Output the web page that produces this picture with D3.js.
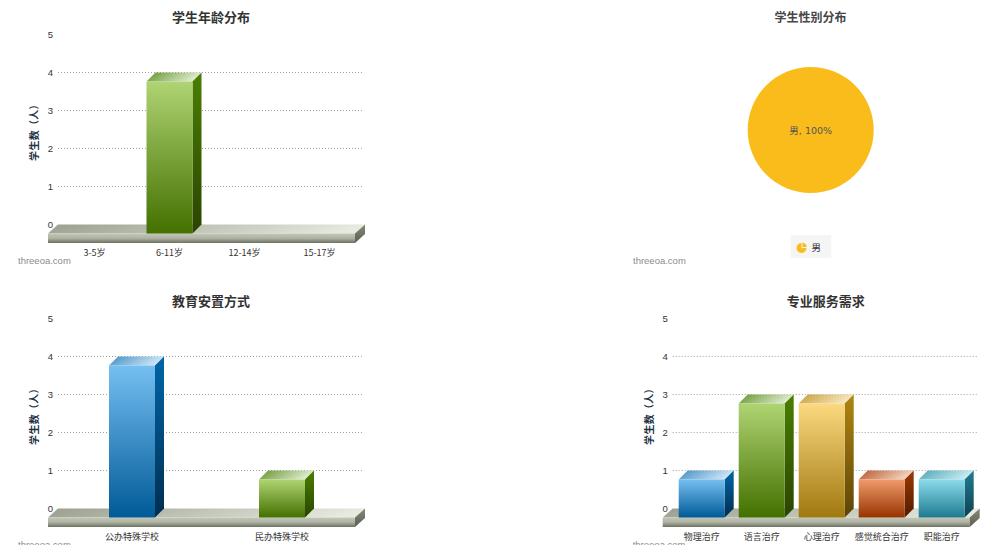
<!DOCTYPE html>
<html><head><meta charset="utf-8">
<script src="https://cdn.jsdelivr.net/npm/d3@7/dist/d3.min.js"></script>
<style>html,body{margin:0;padding:0;background:#fff;overflow:hidden}svg{display:block}
text{font-family:"Noto Sans CJK SC","Liberation Sans",sans-serif}</style></head><body>
<script>
const ageTitle = "学生年龄分布", ageCats = ["3-5岁","6-11岁","12-14岁","15-17岁"], ageVals = [0,4,0,0], ageColors = ["green","green","green","green"];
const placeTitle = "教育安置方式", placeCats = ["公办特殊学校","民办特殊学校"], placeVals = [4,1], placeColors = ["blue","green"];
const svcTitle = "专业服务需求", svcCats = ["物理治疗","语言治疗","心理治疗","感觉统合治疗","职能治疗"], svcVals = [1,3,3,1,1], svcColors = ["blue","green","gold","orange","teal"];
const genderTitle = "学生性别分布", genderCats = ["男"], genderVals = [100], genderColor = "#f9bc1a";
const yTicks = [0,1,2,3,4,5], gridTicks = [1,2,3,4];
const yTitle = "学生数（人）", watermark = "threeoa.com";
const palette = {
  green:{f:["#afd473","#437000"],s:["#4a7f00","#2a4400"],t:["#64942a","#e0ecd0"]},
  blue:{f:["#75bff2","#005a96"],s:["#0066a8","#002e50"],t:["#3f8ec4","#cfe6f6"]},
  gold:{f:["#fcd981","#a0780e"],s:["#b08610","#5c4408"],t:["#c89c38","#f8e8c0"]},
  orange:{f:["#f29a6c","#963400"],s:["#9e3800","#501c00"],t:["#b8562a","#f4d4c0"]},
  teal:{f:["#8cdbeb","#1d7a90"],s:["#1f7d93","#0e4150"],t:["#4ea4b8","#c8ecf2"]}
};
const svg = d3.select("body").append("svg").attr("width",992).attr("height",545);
const defs = svg.append("defs");
function grad(id,c,x2,y2){
  const g=defs.append("linearGradient").attr("id",id).attr("x1",0).attr("y1",0).attr("x2",x2).attr("y2",y2);
  c.forEach((col,i)=>g.append("stop").attr("offset",i/(c.length-1)).attr("stop-color",col));
}
Object.entries(palette).forEach(([k,p])=>{grad(k+"F",p.f,0,1);grad(k+"S",p.s,0,1);grad(k+"T",p.t,1,0.25);});
grad("floorF",["#c3c7b7","#aeb2a2","#6c7060"],0,1);
grad("floorT",["#9a9e8e","#e6eadf"],1,0.1);
grad("floorS",["#85897a","#5b5f50"],0,1);

const depth=9, barW=46;
function addMark(g){
  g.append("text").attr("x",18).attr("y",264).attr("font-size",9.5).attr("fill","#8c8c8c")
    .style("font-family","'Liberation Sans',sans-serif").text(watermark);
}
function drawBar(ox,oy,title,cats,vals,colors){
  const g=svg.append("g").attr("transform",`translate(${ox},${oy})`);
  const y=d3.scaleLinear().domain([0,5]).range([224.5,34.5]);
  const x=d3.scaleBand().domain(cats).range([57,357]);
  g.append("text").attr("x",211).attr("y",22).attr("text-anchor","middle")
    .attr("font-size",13).attr("font-weight",700).attr("fill","#333").text(title);
  const ax=g.append("g").attr("transform","translate(58,0)").call(d3.axisLeft(y).tickValues(yTicks).tickFormat(d3.format("d")).tickSize(0).tickPadding(5));
  ax.select(".domain").remove();
  ax.selectAll("text").attr("font-size",9.5).attr("fill","#333").style("font-family","'Liberation Sans',sans-serif");
  g.append("g").selectAll("line").data(gridTicks).join("line")
    .attr("x1",58).attr("x2",364).attr("y1",d=>y(d)).attr("y2",d=>y(d))
    .attr("stroke","#a0a0a0").attr("stroke-dasharray","1 2");
  g.append("text").attr("transform",`translate(38,130) rotate(-90)`).attr("text-anchor","middle")
    .attr("font-size",10).attr("font-weight",700).attr("letter-spacing",0.3).attr("fill","#1f3347").text(yTitle);
  const fx0=48,fx1=355,fy0=y(0)+depth,fy1=fy0+9.5;
  g.append("path").attr("d",`M${fx0},${fy0}L${fx0+depth+1},${y(0)}L${fx1+depth+1},${y(0)}L${fx1},${fy0}Z`).attr("fill","url(#floorT)");
  g.append("rect").attr("x",fx0).attr("y",fy0).attr("width",fx1-fx0).attr("height",fy1-fy0).attr("fill","url(#floorF)");
  g.append("path").attr("d",`M${fx1},${fy0}L${fx1+depth+1},${y(0)}V${y(0)+9.5}L${fx1},${fy1}Z`).attr("fill","url(#floorS)");
  const rows=cats.map((c,i)=>({c,v:vals[i],k:colors[i]})).filter(d=>d.v>0);
  const bars=g.append("g").selectAll("g").data(rows).join("g")
    .attr("transform",d=>`translate(${x(d.c)+x.bandwidth()/2-barW/2},0)`);
  bars.append("path").attr("fill",d=>`url(#${d.k}T)`)
    .attr("d",d=>`M0,${y(d.v)+depth}L${depth},${y(d.v)}H${barW+depth}L${barW},${y(d.v)+depth}Z`);
  bars.append("path").attr("fill",d=>`url(#${d.k}S)`)
    .attr("d",d=>`M${barW},${y(d.v)+depth}L${barW+depth},${y(d.v)}V${y(0)}L${barW},${y(0)+depth}Z`);
  bars.append("rect").attr("x",0).attr("width",barW).attr("y",d=>y(d.v)+depth).attr("height",d=>y(0)-y(d.v)).attr("fill",d=>`url(#${d.k}F)`);
  g.append("g").selectAll("text").data(cats).join("text")
    .attr("x",d=>x(d)+x.bandwidth()/2).attr("y",256).attr("text-anchor","middle")
    .attr("font-size",9).attr("fill","#333").text(d=>d);
  addMark(g);
}
drawBar(0,0,ageTitle,ageCats,ageVals,ageColors);
drawBar(0,284,placeTitle,placeCats,placeVals,placeColors);
drawBar(614.7,284,svcTitle,svcCats,svcVals,svcColors);

const pg=svg.append("g").attr("transform","translate(615,0)");
pg.append("text").attr("x",195.5).attr("y",22).attr("text-anchor","middle").attr("font-size",12).attr("font-weight",700).attr("fill","#464646").text(genderTitle);
const arcs=d3.pie()(genderVals);
pg.append("g").attr("transform","translate(195.7,130)").selectAll("path").data(arcs).join("path")
  .attr("d",d3.arc().innerRadius(0).outerRadius(63)).attr("fill",genderColor);
pg.append("text").attr("x",195.7).attr("y",134).attr("text-anchor","middle").attr("font-size",9.5).attr("fill","#555")
  .style("font-family","'DejaVu Sans','Noto Sans CJK SC',sans-serif").text(genderCats[0]+", "+genderVals[0]+"%");
pg.append("rect").attr("x",175.7).attr("y",235).attr("width",40.6).attr("height",23).attr("fill","#f5f5f5");
const icon=pg.append("g").attr("transform","translate(186.5,248)");
icon.append("path").attr("d",d3.arc().innerRadius(0).outerRadius(5)({startAngle:Math.PI/2,endAngle:2*Math.PI})).attr("fill",genderColor);
icon.append("path").attr("transform","translate(1,-1)").attr("d",d3.arc().innerRadius(0).outerRadius(4.2)({startAngle:0,endAngle:Math.PI/2})).attr("fill",genderColor);
pg.append("text").attr("x",196.5).attr("y",251).attr("font-size",9.5).attr("fill","#333").text(genderCats[0]);
addMark(pg);
</script></body></html>
